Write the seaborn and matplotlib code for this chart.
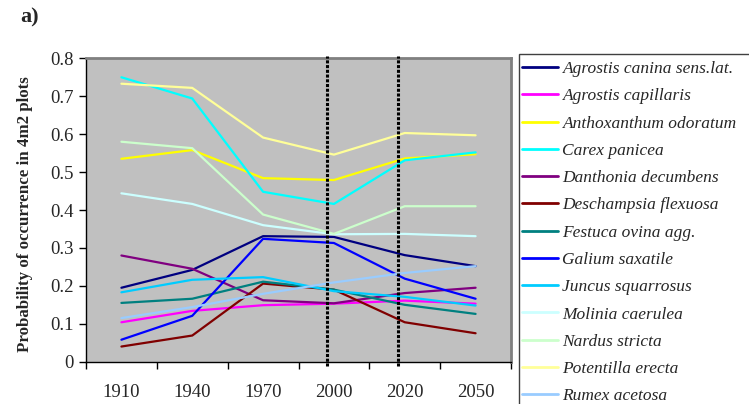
import matplotlib
matplotlib.use("Agg")
import matplotlib.pyplot as plt
from matplotlib.patches import Rectangle
from matplotlib.lines import Line2D
import seaborn as sns
import pandas as pd

# Time slices on the category axis
years = ["1910", "1940", "1970", "2000", "2020", "2050"]

species = [
    "Agrostis canina sens.lat.",
    "Agrostis capillaris",
    "Anthoxanthum odoratum",
    "Carex panicea",
    "Danthonia decumbens",
    "Deschampsia flexuosa",
    "Festuca ovina agg.",
    "Galium saxatile",
    "Juncus squarrosus",
    "Molinia caerulea",
    "Nardus stricta",
    "Potentilla erecta",
    "Rumex acetosa",
]

agrostis_canina = [0.195, 0.242, 0.331, 0.329, 0.281, 0.252]
agrostis_capillaris = [0.104, 0.134, 0.149, 0.153, 0.161, 0.153]
anthoxanthum = [0.535, 0.558, 0.484, 0.479, 0.536, 0.547]
carex = [0.750, 0.694, 0.448, 0.416, 0.531, 0.552]
danthonia = [0.280, 0.245, 0.162, 0.154, 0.181, 0.195]
deschampsia = [0.040, 0.069, 0.206, 0.190, 0.104, 0.075]
festuca = [0.155, 0.166, 0.211, 0.190, 0.150, 0.126]
galium = [0.058, 0.121, 0.324, 0.313, 0.219, 0.166]
juncus = [0.183, 0.216, 0.223, 0.186, 0.171, 0.148]
molinia = [0.444, 0.416, 0.360, 0.336, 0.337, 0.331]
nardus = [0.580, 0.563, 0.388, 0.337, 0.410, 0.410]
potentilla = [0.733, 0.722, 0.591, 0.546, 0.603, 0.597]
rumex = [0.115, 0.144, 0.179, 0.209, 0.234, 0.252]

series = [agrostis_canina, agrostis_capillaris, anthoxanthum, carex, danthonia,
          deschampsia, festuca, galium, juncus, molinia, nardus, potentilla, rumex]

colors = ["#000080", "#FF00FF", "#FFFF00", "#00FFFF", "#800080", "#800000",
          "#008080", "#0000FF", "#00CCFF", "#CCFFFF", "#CCFFCC", "#FFFF99",
          "#99CCFF"]

rows = []
for name, vals in zip(species, series):
    for i, v in enumerate(vals):
        rows.append({"species": name, "pos": i, "prob": v})
df = pd.DataFrame(rows)

sns.set_theme(style="white")
plt.rcParams["font.family"] = ["Liberation Serif", "DejaVu Serif"]

fig = plt.figure(figsize=(7.49, 4.04), dpi=100)
ax = fig.add_axes([86 / 749, 1 - 361.7 / 404, 425 / 749, 303.4 / 404])
ax.set_facecolor("#C0C0C0")

palette = dict(zip(species, colors))
sns.lineplot(data=df, x="pos", y="prob", hue="species", hue_order=species,
             palette=palette, linewidth=1.6, legend=False, ax=ax,
             estimator=None, sort=False)

# Period boundaries
for xb in [2.9, 3.9]:
    ax.axvline(xb, ymin=-0.014, ymax=1.008, color="black", lw=2.2,
               linestyle=(0, (1.0, 0.55)), clip_on=False, zorder=5)

ax.set_xlim(-0.5, len(years) - 0.5)
ax.set_ylim(0, 0.8)
ax.set_yticks([i / 10 for i in range(9)])
ax.set_yticklabels(["0"] + [f"{i / 10:.1f}" for i in range(1, 9)])
ax.set_xticks(range(len(years)))
ax.set_xticklabels(years)
ax.set_xticks([i - 0.5 for i in range(len(years) + 1)], minor=True)
ax.tick_params(axis="x", which="major", length=0, pad=16, labelsize=13.5)
ax.tick_params(axis="x", which="minor", length=5, width=1, color="black",
               direction="out", bottom=True)
ax.tick_params(axis="y", length=5, width=1, color="black", direction="out",
               left=True, labelsize=13.5, pad=4)
ax.set_xlabel("")
ax.set_ylabel("Probability of occurrence in 4m2 plots", fontsize=12.2,
              fontweight="bold")
ax.yaxis.set_label_coords(-0.125, 0.487)
ax.grid(False)

for side in ["left", "bottom"]:
    ax.spines[side].set_color("black")
    ax.spines[side].set_linewidth(1.0)
for side in ["top", "right"]:
    ax.spines[side].set_color("#808080")
    ax.spines[side].set_linewidth(2.0)

fig.text(20 / 749, 1 - 17 / 404, "a)", fontsize=16, fontweight="bold",
         va="center", ha="left")

# Legend box
fig.patches.append(Rectangle((519.3 / 749, -0.2), 0.5, (404 - 54) / 404 + 0.2,
                             transform=fig.transFigure, fill=False,
                             edgecolor="#404040", lw=1.0))
handles = [Line2D([], [], color=c, lw=2) for c in colors]
leg = fig.legend(handles, species, loc="upper left",
                 bbox_to_anchor=(521.7 / 749, 1 - 61 / 404),
                 bbox_transform=fig.transFigure, frameon=False,
                 prop={"family": "Liberation Serif", "style": "italic",
                       "size": 12.5},
                 handlelength=2.1, handletextpad=0.25, labelspacing=0.64,
                 borderpad=0, borderaxespad=0)

fig.savefig("out.png", dpi=100)
